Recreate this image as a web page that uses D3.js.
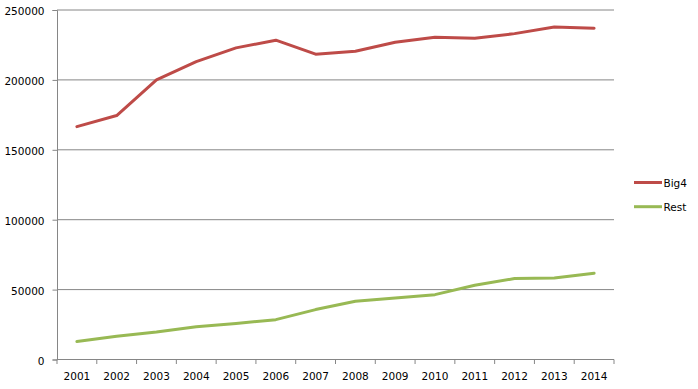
<!DOCTYPE html>
<html>
<head>
<meta charset="utf-8">
<script src="https://cdn.jsdelivr.net/npm/d3@7"></script>
<style>
  body { margin: 0; background: #fff; }
  text { font-family: "DejaVu Sans", sans-serif; font-size: 10.5px; fill: #000; }
</style>
</head>
<body>
<svg id="canvas" width="698" height="389"></svg>
<script>
let years = ['2001','2002','2003','2004','2005','2006','2007','2008','2009','2010','2011','2012','2013','2014'];
let big4 = [166600, 174500, 200000, 213100, 222900, 228400, 218400, 220500, 226900, 230500, 229800, 233100, 237900, 237000];
let rest = [12800, 16600, 19700, 23500, 25700, 28500, 35700, 41700, 44000, 46400, 53100, 57900, 58300, 61700];
let yTicks = [0, 50000, 100000, 150000, 200000, 250000];

let seriesNames = ['Big4', 'Rest'];
let seriesColors = ['#be4b48', '#98b954'];

let canvas = d3.select('#canvas');

let plotLeft = 57, plotRight = 614, plotTop = 10, plotBottom = 359.5;

let x = d3.scaleBand().domain(years).range([plotLeft, plotRight]).padding(0);
let y = d3.scaleLinear().domain([0, 250000]).range([plotBottom, plotTop]);

// gridlines
canvas.append('g')
    .selectAll('line')
    .data(yTicks.slice(1))
    .enter()
    .append('line')
    .attr('x1', plotLeft)
    .attr('x2', plotRight)
    .attr('y1', d => y(d))
    .attr('y2', d => y(d))
    .attr('stroke', '#868686')
    .attr('stroke-width', 1);

// y axis
let yAxis = canvas.append('g')
    .attr('transform', 'translate(' + plotLeft + ',0)')
    .call(d3.axisLeft(y).tickValues(yTicks).tickSize(4.5).tickPadding(8).tickFormat(d3.format('d')));
yAxis.selectAll('path, line').attr('stroke', '#868686');
yAxis.selectAll('text').attr('dy', '0.45em');
yAxis.attr('font-family', null).attr('font-size', null);

// x axis: labels centered in categories, ticks at boundaries
let xAxis = canvas.append('g')
    .attr('transform', 'translate(0,' + plotBottom + ')')
    .call(d3.axisBottom(x).tickSize(0).tickPadding(13.5));
xAxis.select('path').remove();
xAxis.attr('font-family', null).attr('font-size', null);

let bounds = years.map(d => x(d)).concat([plotRight]);
canvas.append('line')
    .attr('x1', plotLeft).attr('x2', plotRight)
    .attr('y1', plotBottom).attr('y2', plotBottom)
    .attr('stroke', '#868686');
canvas.append('g')
    .selectAll('line')
    .data(bounds)
    .enter()
    .append('line')
    .attr('x1', d => d).attr('x2', d => d)
    .attr('y1', plotBottom).attr('y2', plotBottom + 4.5)
    .attr('stroke', '#868686');

// lines
let line = d3.line()
    .x((d, i) => x(years[i]) + x.bandwidth() / 2)
    .y(d => y(d));

[big4, rest].forEach((values, i) => {
    canvas.append('path')
        .datum(values)
        .attr('d', line)
        .attr('fill', 'none')
        .attr('stroke', seriesColors[i])
        .attr('stroke-width', 3)
        .attr('stroke-linejoin', 'round')
        .attr('stroke-linecap', 'round');
});

// legend
let legend = canvas.append('g')
    .selectAll('g')
    .data(seriesNames)
    .enter()
    .append('g')
    .attr('transform', (d, i) => 'translate(634,' + (182.5 + i * 24.2) + ')');
legend.append('line')
    .attr('x1', 0).attr('x2', 28)
    .attr('stroke', (d, i) => seriesColors[i])
    .attr('stroke-width', 3);
legend.append('text')
    .attr('x', 29.5)
    .attr('dy', '0.42em')
    .text(d => d);
</script>
</body>
</html>
